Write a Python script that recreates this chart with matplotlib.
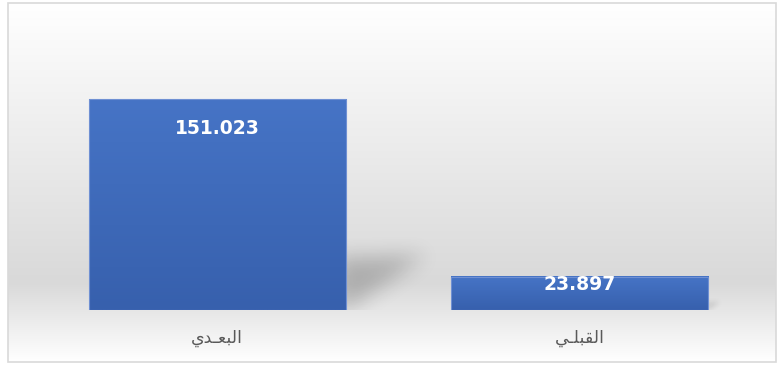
"""Столбчатая диаграмма: البعدي / القبلي в стиле Excel (градиентный фон, тени)."""

import matplotlib

matplotlib.use("Agg")
import matplotlib.pyplot as plt
import numpy as np
from matplotlib.colors import LinearSegmentedColormap
from matplotlib.patches import Rectangle
from matplotlib.path import Path

# Данные
categories = ["البعـدي", "القبلـي"]
values = [151.023, 23.897]

# Палитра
COL_BAR_TOP = "#4674c6"
COL_BAR_BOT = "#3760ad"
COL_BAR_EDGE = "#6f90d3"
COL_TEXT = "#595959"
COL_FRAME = "#d9d9d9"

W, H = 779, 365

# Формы арабских букв: (изолированная, конечная, начальная, срединная)
FORMS = {
    "ا": ("\ufe8d", "\ufe8e", None, None),
    "د": ("\ufea9", "\ufeaa", None, None),
    "ل": ("\ufedd", "\ufede", "\ufedf", "\ufee0"),
    "ب": ("\ufe8f", "\ufe90", "\ufe91", "\ufe92"),
    "ع": ("\ufec9", "\ufeca", "\ufecb", "\ufecc"),
    "ق": ("\ufed5", "\ufed6", "\ufed7", "\ufed8"),
    "ي": ("\ufef1", "\ufef2", "\ufef3", "\ufef4"),
    "ـ": ("ـ", "ـ", "ـ", "ـ"),
}


def shape_arabic(s):
    """Минимальное соединение букв + визуальный порядок (matplotlib не умеет bidi)."""
    out = []
    for i, ch in enumerate(s):
        f = FORMS[ch]
        prev_joins = i > 0 and FORMS[s[i - 1]][2] is not None
        next_joins = i < len(s) - 1 and f[2] is not None
        if prev_joins and next_joins:
            out.append(f[3])
        elif prev_joins:
            out.append(f[1])
        elif next_joins:
            out.append(f[2])
        else:
            out.append(f[0])
    return "".join(reversed(out))


def box_blur(a, r, passes=3):
    k = np.ones(2 * r + 1) / (2 * r + 1)
    for _ in range(passes):
        a = np.apply_along_axis(lambda v: np.convolve(v, k, mode="same"), 0, a)
        a = np.apply_along_axis(lambda v: np.convolve(v, k, mode="same"), 1, a)
    return a


def soft_shadow(ax, bar, alpha=0.2):
    """Размытая косая тень справа от столбца."""
    tr = ax.transData
    x_r = bar.get_x() + bar.get_width()
    px0, py0 = tr.transform((x_r, 0))
    _, py1 = tr.transform((x_r, bar.get_height()))
    hpx = py1 - py0
    sh, ln = 0.25 * hpx, 0.38 * hpx
    r = max(2, int(0.045 * hpx))
    pad = 3 * r
    xs = np.arange(px0 - pad, px0 + ln + pad)
    ys = np.arange(py0 - pad, py0 + sh + pad)
    gx, gy = np.meshgrid(xs, ys)
    poly = Path([(px0 - 10, py0), (px0 - 10, py0 + sh), (px0 + ln, py0 + sh * 1.05), (px0 + 2, py0)])
    mask = poly.contains_points(np.c_[gx.ravel(), gy.ravel()]).reshape(gx.shape).astype(float)
    mask = box_blur(mask, r)
    mask[gy < py0] = 0
    rgba = np.zeros(mask.shape + (4,))
    rgba[..., 3] = alpha * mask
    inv = tr.inverted()
    (dx0, dy0) = inv.transform((xs[0], ys[0]))
    (dx1, dy1) = inv.transform((xs[-1], ys[-1]))
    ax.imshow(rgba, extent=(dx0, dx1, dy0, dy1), origin="lower",
              aspect="auto", interpolation="bilinear", zorder=1)


fig = plt.figure(figsize=(W / 100, H / 100), dpi=100)

# Фон: рамка с вертикальным градиентом
bg = fig.add_axes([0, 0, 1, 1])
bg.set_xlim(0, W)
bg.set_ylim(H, 0)
bg.axis("off")
bg_cmap = LinearSegmentedColormap.from_list(
    "bg", [(0.0, "#ffffff"), (0.78, "#d9d9d9"), (1.0, "#ffffff")])
grad = np.linspace(0, 1, 256).reshape(-1, 1)
bg.imshow(grad, cmap=bg_cmap, extent=(8, 776, 362, 3), aspect="auto",
          interpolation="bilinear")
bg.add_patch(Rectangle((8, 3), 768, 359, fill=False, edgecolor=COL_FRAME, lw=1.2))
bg.set_xlim(0, W)
bg.set_ylim(H, 0)

# Основная область
base_px = 310
ymax = 160
ax = fig.add_axes([36 / W, (H - base_px) / H, 725 / W, ymax * 1.397 / H])
ax.patch.set_alpha(0)
x = np.arange(len(values))
ax.set_xlim(-0.5, len(values) - 0.5)
ax.set_ylim(0, ymax)

bars = ax.bar(x, values, width=0.71, color="none", edgecolor=COL_BAR_EDGE,
              linewidth=0.8, zorder=3)

bar_cmap = LinearSegmentedColormap.from_list("bar", [COL_BAR_BOT, COL_BAR_TOP])
for b in bars:
    soft_shadow(ax, b, alpha=0.2 if b.get_height() > 50 else 0.1)
    ax.imshow(np.linspace(0, 1, 128).reshape(-1, 1), cmap=bar_cmap, origin="lower",
              extent=(b.get_x(), b.get_x() + b.get_width(), 0, b.get_height()),
              aspect="auto", interpolation="bilinear", zorder=2)

ax.set_xlim(-0.5, len(values) - 0.5)
ax.set_ylim(0, ymax)

# Подписи значений внутри столбцов
for b, v in zip(bars, values):
    hpx = v * 1.397
    off = min(29, 0.25 * hpx) * 0.72
    ax.annotate(f"{v:.3f}", xy=(b.get_x() + b.get_width() / 2, v),
                xytext=(0, -off), textcoords="offset points",
                ha="center", va="center", color="white",
                fontsize=13.5, fontweight="bold", zorder=5)

ax.set_xticks(x, [shape_arabic(c) for c in categories])
ax.tick_params(axis="x", length=0, pad=14, labelsize=12.5, labelcolor=COL_TEXT)
ax.set_yticks([])
for s in ax.spines.values():
    s.set_visible(False)

fig.savefig("out.png", dpi=100)
